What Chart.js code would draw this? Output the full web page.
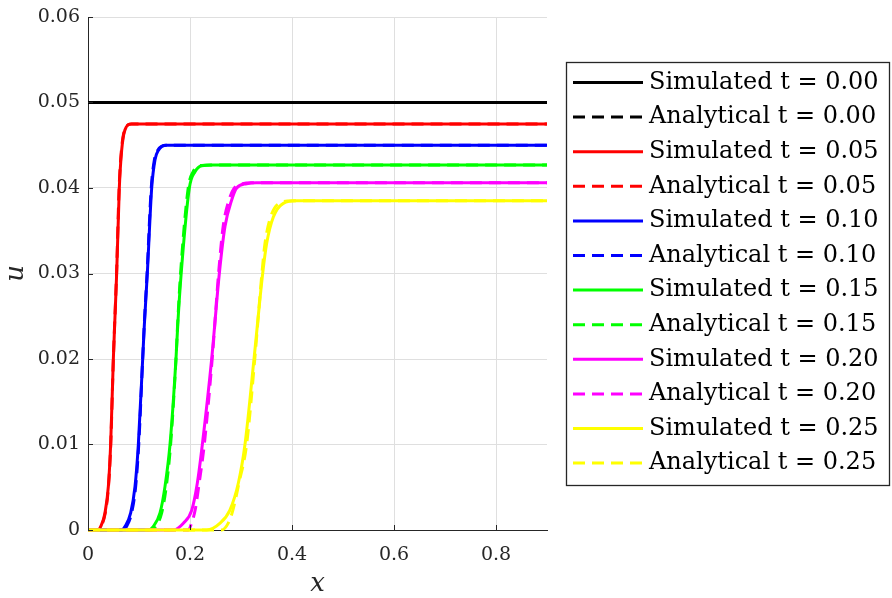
<!DOCTYPE html>
<html lang="en">
  <head>
    <meta charset="UTF-8" />
    <title>Simulated vs analytical u(x)</title>
    <script src="https://cdn.jsdelivr.net/npm/chart.js"></script>
    <style>
      body {
        margin: 0;
        background: #fff;
      }
    </style>
  </head>
  <body>
    <canvas id="chart" width="892" height="598"></canvas>

    <script>
      // times and colours, one per pair of curves
      const times = ["0.00", "0.05", "0.10", "0.15", "0.20", "0.25"];
      const colors = ["#000000", "#ff0000", "#0000ff", "#00ff00", "#ff00ff", "#ffff00"];

      // values
      const xSim000 = [0, 0.9];
      const uSim000 = [0.05, 0.05];
      const xAna000 = [0, 0.9];
      const uAna000 = [0.05, 0.05];

      const xSim005 = [0, 0.02, 0.0248, 0.0333, 0.0399, 0.0444, 0.0497, 0.0523, 0.0562, 0.0614, 0.066, 0.0725, 0.0856, 0.9];
      const uSim005 = [0, 0, 0.0004, 0.002, 0.0051, 0.01, 0.02, 0.024, 0.03, 0.04, 0.0444, 0.0468, 0.0475, 0.0475];
      const xAna005 = [0, 0.021, 0.0258, 0.0338, 0.0402, 0.0446, 0.0497, 0.0522, 0.056, 0.061, 0.0655, 0.072, 0.085, 0.9];
      const uAna005 = [0, 0, 0.0004, 0.002, 0.0051, 0.01, 0.02, 0.024, 0.03, 0.04, 0.0444, 0.0468, 0.0475, 0.0475];

      const xSim010 = [0, 0.066, 0.0725, 0.0837, 0.0922, 0.0987, 0.1072, 0.1105, 0.1163, 0.1249, 0.1314, 0.1379, 0.1543, 0.9];
      const uSim010 = [0, 0, 0.0004, 0.002, 0.0051, 0.01, 0.02, 0.024, 0.03, 0.04, 0.0433, 0.0444, 0.045, 0.045];
      const xAna010 = [0, 0.069, 0.0755, 0.0855, 0.0935, 0.0995, 0.1072, 0.1103, 0.1158, 0.124, 0.1302, 0.1365, 0.153, 0.9];
      const uAna010 = [0, 0, 0.0004, 0.002, 0.0051, 0.01, 0.02, 0.024, 0.03, 0.04, 0.0433, 0.0444, 0.045, 0.045];

      const xSim015 = [0, 0.118, 0.128, 0.1412, 0.151, 0.1608, 0.1725, 0.176, 0.1827, 0.1987, 0.2098, 0.223, 0.2457, 0.9];
      const uSim015 = [0, 0, 0.0004, 0.002, 0.0051, 0.01, 0.02, 0.024, 0.03, 0.04, 0.0419, 0.0426, 0.0427, 0.0427];
      const xAna015 = [0, 0.124, 0.132, 0.1445, 0.1535, 0.162, 0.1725, 0.1757, 0.1815, 0.1965, 0.206, 0.218, 0.24, 0.9];
      const uAna015 = [0, 0, 0.0004, 0.002, 0.0051, 0.01, 0.02, 0.024, 0.03, 0.04, 0.0419, 0.0426, 0.0427, 0.0427];

      const xSim020 = [0, 0.167, 0.187, 0.2033, 0.2144, 0.2242, 0.2425, 0.2575, 0.2686, 0.2817, 0.2915, 0.311, 0.33, 0.9];
      const uSim020 = [0, 0, 0.0008, 0.0023, 0.0055, 0.01, 0.02, 0.03, 0.0355, 0.0386, 0.04, 0.0405, 0.0406, 0.0406];
      const xAna020 = [0, 0.197, 0.203, 0.21, 0.218, 0.228, 0.2435, 0.256, 0.265, 0.2765, 0.287, 0.303, 0.32, 0.9];
      const uAna020 = [0, 0, 0.0008, 0.0023, 0.0055, 0.01, 0.02, 0.03, 0.0355, 0.0386, 0.04, 0.0405, 0.0406, 0.0406];

      const xSim025 = [0, 0.2327, 0.259, 0.278, 0.2948, 0.3078, 0.3255, 0.3425, 0.3503, 0.3634, 0.383, 0.409, 0.9];
      const uSim025 = [0, 0, 0.0008, 0.0023, 0.0055, 0.01, 0.02, 0.03, 0.0335, 0.0366, 0.0382, 0.0385, 0.0385];
      const xAna025 = [0, 0.262, 0.275, 0.284, 0.296, 0.311, 0.327, 0.341, 0.347, 0.358, 0.375, 0.4, 0.9];
      const uAna025 = [0, 0, 0.0008, 0.0023, 0.0055, 0.01, 0.02, 0.03, 0.0335, 0.0366, 0.0382, 0.0385, 0.0385];

      const xTicks = [0, 0.2, 0.4, 0.6, 0.8];
      const yTicks = [0, 0.01, 0.02, 0.03, 0.04, 0.05, 0.06];

      const simX = [xSim000, xSim005, xSim010, xSim015, xSim020, xSim025];
      const simU = [uSim000, uSim005, uSim010, uSim015, uSim020, uSim025];
      const anaX = [xAna000, xAna005, xAna010, xAna015, xAna020, xAna025];
      const anaU = [uAna000, uAna005, uAna010, uAna015, uAna020, uAna025];

      const DASH = [12, 7];
      const SERIF = "'DejaVu Serif', serif";
      const AXIS = "#262626";

      function toPoints(xs, us) {
        return xs.map((x, i) => ({ x: x, y: us[i] }));
      }

      const datasets = [];
      times.forEach((t, i) => {
        datasets.push({
          label: "Simulated t = " + t,
          data: toPoints(simX[i], simU[i]),
          borderColor: colors[i],
          borderWidth: 3,
          borderDash: [],
        });
        datasets.push({
          label: "Analytical t = " + t,
          data: toPoints(anaX[i], anaU[i]),
          borderColor: colors[i],
          borderWidth: 3,
          borderDash: DASH,
        });
      });
      // later curves on top, as in the original
      datasets.forEach((d, i) => {
        d.order = datasets.length - i;
        d.pointRadius = 0;
        d.fill = false;
        d.cubicInterpolationMode = "monotone";
        d.clip = { left: 2, top: 2, right: 0, bottom: 3 };
      });

      const extras = {
        id: "extras",
        afterDraw(chart) {
          const ctx = chart.ctx;
          const a = chart.chartArea;
          const xs = chart.scales.x;
          const ys = chart.scales.y;
          ctx.save();

          // inward tick marks
          ctx.strokeStyle = AXIS;
          ctx.lineWidth = 1;
          ctx.beginPath();
          xTicks.forEach((v) => {
            const px = Math.round(xs.getPixelForValue(v)) + 0.5;
            ctx.moveTo(px, a.bottom);
            ctx.lineTo(px, a.bottom - 5);
          });
          yTicks.forEach((v) => {
            const py = Math.round(ys.getPixelForValue(v)) + 0.5;
            ctx.moveTo(a.left, py);
            ctx.lineTo(a.left + 5, py);
          });
          ctx.stroke();

          // axis titles
          ctx.fillStyle = AXIS;
          ctx.font = "italic 26px " + SERIF;
          ctx.textAlign = "center";
          ctx.textBaseline = "middle";
          ctx.fillText("x", (a.left + a.right) / 2, 584);
          ctx.save();
          ctx.translate(16, (a.top + a.bottom) / 2);
          ctx.rotate(-Math.PI / 2);
          ctx.fillText("u", 0, 0);
          ctx.restore();

          // legend box
          const bx = 566.5, by = 62.5, bw = 323, bh = 423;
          ctx.fillStyle = "#fff";
          ctx.fillRect(bx, by, bw, bh);
          ctx.strokeStyle = AXIS;
          ctx.lineWidth = 1.3;
          ctx.strokeRect(bx, by, bw, bh);

          ctx.font = "24px " + SERIF;
          ctx.textAlign = "left";
          ctx.textBaseline = "middle";
          chart.data.datasets.forEach((d, i) => {
            const y = 82.5 + i * 34.6;
            ctx.strokeStyle = d.borderColor;
            ctx.lineWidth = 3;
            ctx.setLineDash(d.borderDash);
            ctx.beginPath();
            ctx.moveTo(573, y);
            ctx.lineTo(643, y);
            ctx.stroke();
            ctx.setLineDash([]);
            ctx.fillStyle = "#000";
            ctx.fillText(d.label, 649, y);
          });
          ctx.restore();
        },
      };

      new Chart(document.getElementById("chart"), {
        type: "line",
        data: { datasets: datasets },
        plugins: [extras],
        options: {
          responsive: false,
          animation: false,
          layout: { padding: { left: 0, right: 345, top: 17, bottom: 0 } },
          plugins: {
            legend: { display: false },
            tooltip: { enabled: false },
          },
          scales: {
            x: {
              type: "linear",
              min: 0,
              max: 0.9,
              afterFit: (s) => {
                s.height = 68;
                s.paddingLeft = 0;
                s.paddingRight = 0;
              },
              afterBuildTicks: (s) => {
                s.ticks = xTicks.map((v) => ({ value: v }));
              },
              grid: { color: "#dfdfdf", drawTicks: false },
              border: { color: AXIS, width: 1 },
              ticks: {
                padding: 14,
                color: AXIS,
                font: { family: SERIF, size: 19 },
                callback: (v) => (v === 0 ? "0" : String(v)),
              },
            },
            y: {
              type: "linear",
              min: 0,
              max: 0.06,
              afterFit: (s) => {
                s.width = 88;
                s.paddingTop = 0;
                s.paddingBottom = 0;
              },
              afterBuildTicks: (s) => {
                s.ticks = yTicks.map((v) => ({ value: v }));
              },
              grid: { color: "#dfdfdf", drawTicks: false },
              border: { color: AXIS, width: 1 },
              ticks: {
                padding: 8,
                color: AXIS,
                font: { family: SERIF, size: 19 },
                callback: (v) => (v === 0 ? "0" : v.toFixed(2)),
              },
            },
          },
        },
      });
    </script>
  </body>
</html>
